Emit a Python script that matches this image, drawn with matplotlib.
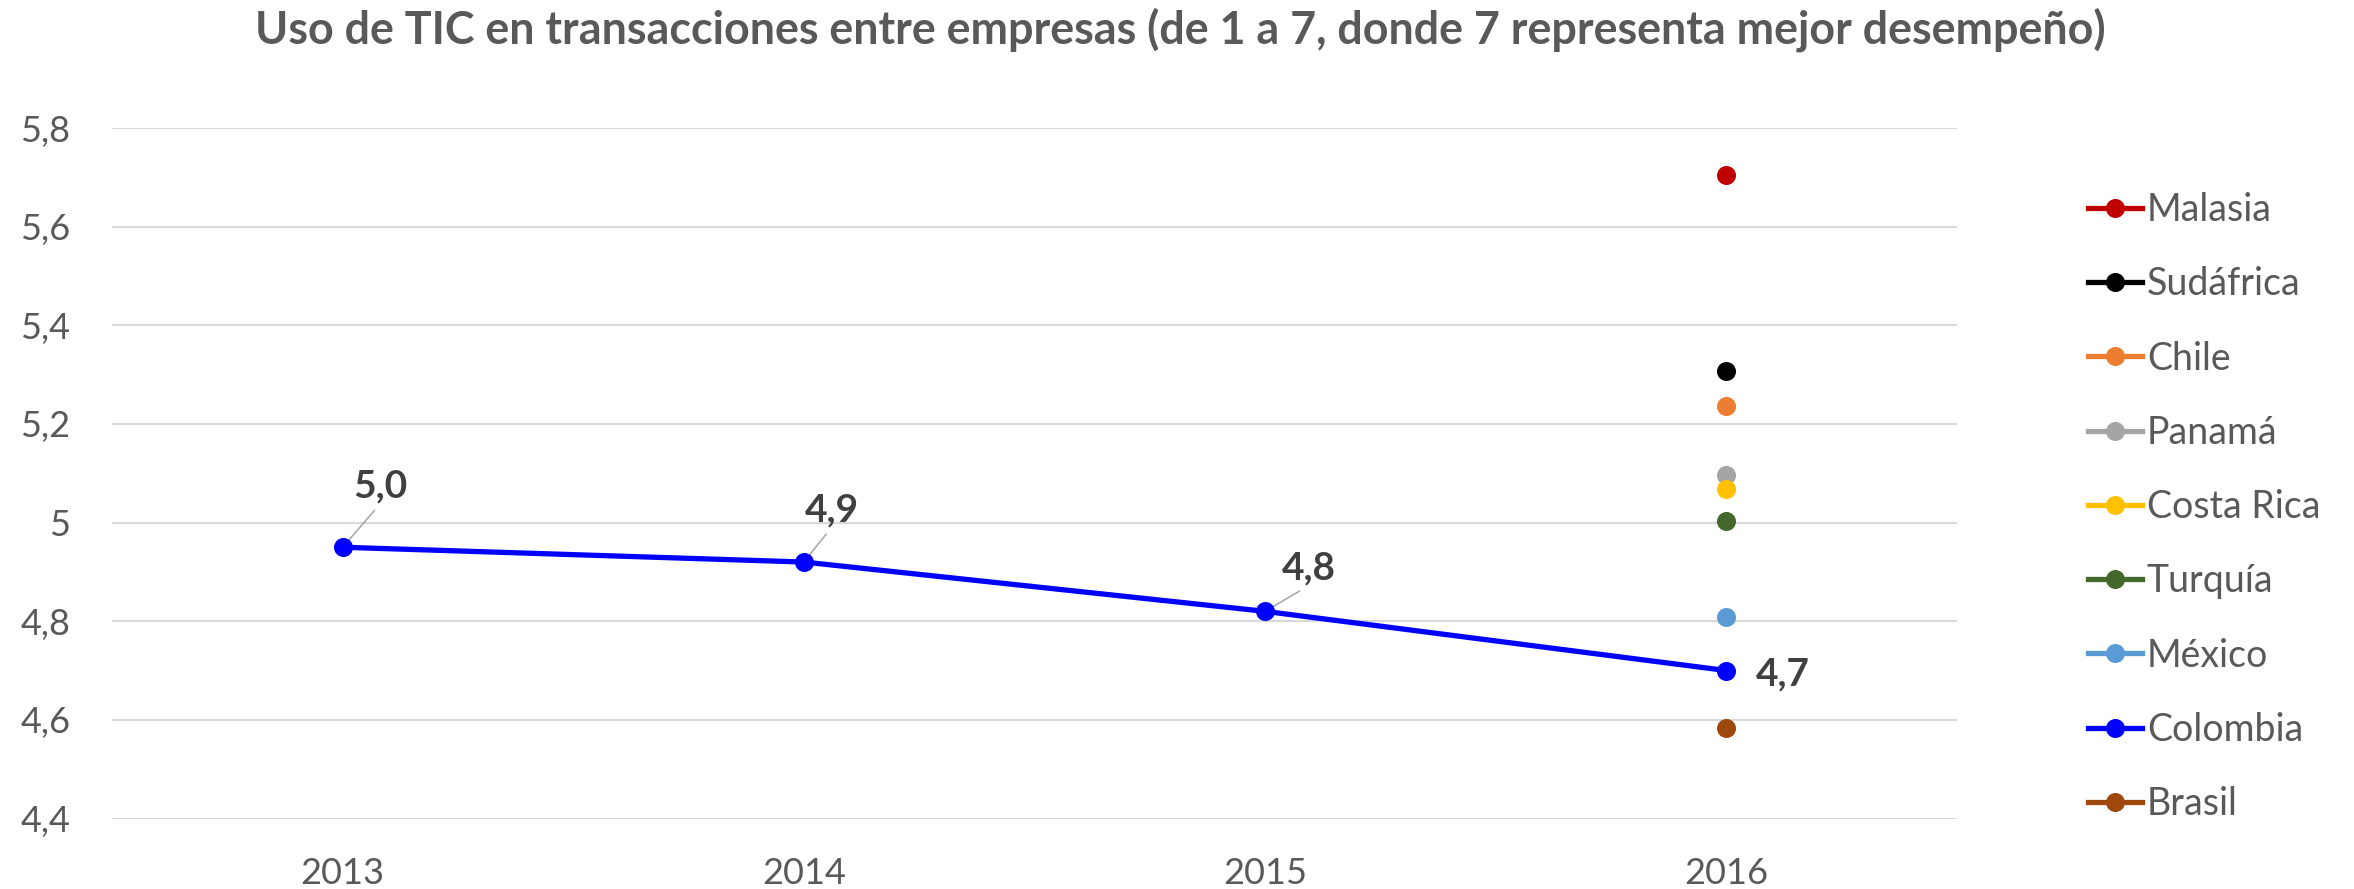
import matplotlib
matplotlib.use("Agg")
from matplotlib import pyplot as plt
from matplotlib.lines import Line2D

plt.rcParams['font.family'] = ['Lato', 'DejaVu Sans']

title = "Uso de TIC en transacciones entre empresas (de 1 a 7, donde 7 representa mejor desempeño)"
years = ["2013", "2014", "2015", "2016"]
colombia = [4.95, 4.92, 4.82, 4.70]

# otros países, solo 2016
countries = ["Malasia", "Sudáfrica", "Chile", "Panamá", "Costa Rica", "Turquía", "México", "Colombia", "Brasil"]
values_2016 = [5.705, 5.307, 5.236, 5.096, 5.069, 5.004, 4.809, None, 4.583]
colors = ["#C00000", "#000000", "#ED7D31", "#A5A5A5", "#FFC000", "#43682B", "#5B9BD5", "#0000FF", "#9E480E"]

y_ticks = [4.4, 4.6, 4.8, 5.0, 5.2, 5.4, 5.6, 5.8]
y_tick_labels = ["4,4", "4,6", "4,8", "5", "5,2", "5,4", "5,6", "5,8"]

gray_text = "#595959"
fs_tick = 26
fs_leg = 27
fs_lab = 28

fig = plt.figure(figsize=(23.54, 8.89), dpi=100)
ax = fig.add_axes([0.04758, 0.0793, 0.78377, 0.7767])

x = list(range(len(years)))
handles = []
for name, val, col in zip(countries, values_2016, colors):
    if name == "Colombia":
        ax.plot(x, colombia, color=col, lw=3.8, marker="o", ms=13.7, mew=0, zorder=3)
    else:
        ax.plot([x[-1]], [val], color=col, lw=3.8, marker="o", ms=13.7, mew=0, zorder=3)
    handles.append(Line2D([], [], color=col, lw=3.8, marker="o", ms=13.7, mew=0, label=name))

# etiquetas de datos de Colombia (offsets en pixeles)
offsets = [(38, 50), (28, 41), (44, 32)]
for i in range(3):
    ax.annotate("{0:.1f}".format(colombia[i]).replace(".", ","), xy=(x[i], colombia[i]),
                xytext=offsets[i], textcoords="offset pixels", ha="center", va="baseline",
                fontsize=fs_lab, fontweight="bold", color="#404040", zorder=1,
                arrowprops=dict(arrowstyle="-", color="#A6A6A6", lw=1.1, relpos=(0.5, 0),
                                shrinkA=4, shrinkB=0))
ax.annotate("{0:.1f}".format(colombia[3]).replace(".", ","), xy=(x[3], colombia[3]),
            xytext=(29, -15), textcoords="offset pixels", ha="left", va="baseline",
            fontsize=fs_lab, fontweight="bold", color="#404040", zorder=1)

ax.set_xlim(-0.5, 3.5)
ax.set_ylim(4.4, 5.8)
ax.set_xticks(x)
ax.set_xticklabels(years)
ax.set_yticks(y_ticks)
ax.set_yticklabels(y_tick_labels)
ax.tick_params(axis="both", length=0, labelsize=fs_tick, labelcolor=gray_text)
ax.tick_params(axis="y", pad=30)
ax.tick_params(axis="x", pad=28)
ax.grid(axis="y", color="#D9D9D9", lw=1.5)
ax.set_axisbelow(True)
for s in ax.spines.values():
    s.set_visible(False)

fig.text(0.5013, (889 - 44) / 889, title, ha="center", va="baseline",
         fontsize=32.3, fontweight="bold", color=gray_text)

leg = fig.legend(handles=handles, loc="upper left", bbox_to_anchor=(2088 / 2354, 0.784),
                 frameon=False, fontsize=fs_leg, handlelength=1.44, handletextpad=0.13,
                 labelspacing=1.02, borderpad=0, borderaxespad=0)
for t in leg.get_texts():
    t.set_color(gray_text)

fig.savefig("out.png", dpi=100)
